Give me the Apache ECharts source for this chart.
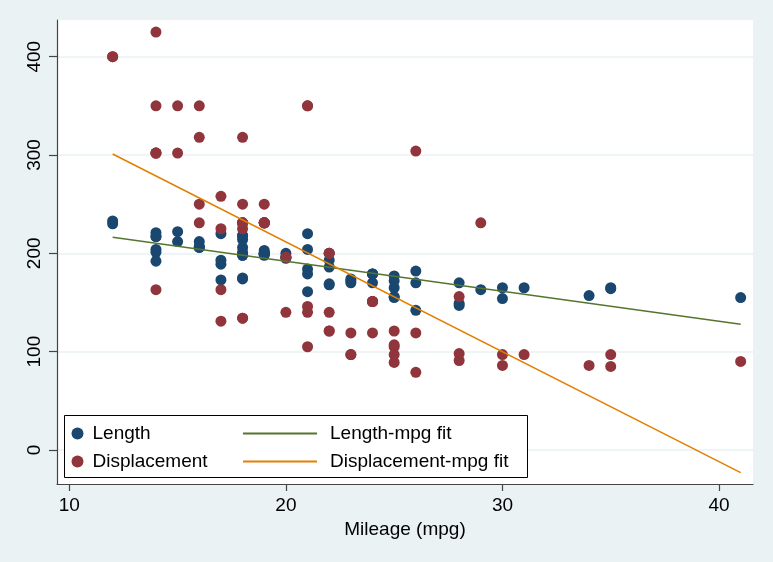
<!DOCTYPE html>
<html>
<head>
<meta charset="utf-8">
<script src="https://cdn.jsdelivr.net/npm/echarts@6/dist/echarts.min.js"></script>
<style>
html,body{margin:0;padding:0;background:#eaf2f3;}
#c{width:773px;height:562px;}
</style>
</head>
<body>
<div id="c"></div>
<script>
const mpg = [22,17,22,20,15,18,26,20,16,19,14,14,21,29,16,22,22,24,19,30,18,16,17,28,21,12,12,14,22,14,15,18,14,20,21,19,19,18,19,24,16,28,34,25,26,18,18,18,19,19,19,24,17,23,25,23,35,24,21,21,25,28,30,14,26,35,18,31,18,23,41,25,25,17];
const lengthVals = [186,173,168,196,222,218,170,200,207,200,221,204,204,163,212,193,200,179,199,165,206,206,220,147,179,233,230,201,169,217,212,198,217,195,220,200,198,218,200,179,206,170,157,165,182,201,214,198,201,199,203,179,189,174,177,170,165,170,184,161,172,149,154,192,142,164,174,165,175,172,155,155,156,193];
const displacementVals = [121,258,121,196,350,231,304,196,231,231,425,350,350,231,250,200,200,151,250,97,318,318,225,98,140,400,400,302,140,302,302,250,302,140,350,231,231,231,231,151,350,156,86,105,119,225,231,231,231,231,231,151,131,97,121,119,85,119,146,105,107,91,86,163,79,97,134,97,134,97,90,89,97,163];
const fitX = [12, 41];
const lengthFit = [216.3, 127.8];
const displacementFit = [301, -23];
const xTicks = [10, 20, 30, 40];
const yTicks = [0, 100, 200, 300, 400];

const FONT = 'Liberation Sans, Arial, Helvetica, sans-serif';
const FS = 19;
const pairs = (xs, ys) => xs.map((x, i) => [x, ys[i]]);

const chart = echarts.init(document.getElementById('c'));
chart.setOption({
  backgroundColor: '#eaf2f3',
  animation: false,
  textStyle: {fontFamily: FONT},
  grid: {left: 57, right: 20, top: 20, bottom: 78, show: true, backgroundColor: '#ffffff', borderWidth: 0, containLabel: false},
  xAxis: {
    type: 'value', min: 9.43, max: 41.57,
    name: 'Mileage (mpg)', nameLocation: 'middle', nameGap: 34,
    nameTextStyle: {fontSize: FS, color: '#000', fontFamily: FONT},
    axisLine: {show: true, onZero: false, lineStyle: {color: '#444', width: 1.2}},
    axisTick: {show: true, length: 7, customValues: xTicks, lineStyle: {color: '#444', width: 1.2}},
    axisLabel: {customValues: xTicks, fontSize: FS, color: '#000', margin: 12, fontFamily: FONT},
    splitLine: {show: false}
  },
  yAxis: {
    type: 'value', min: -34.6, max: 437.3,
    axisLine: {show: true, onZero: false, lineStyle: {color: '#444', width: 1.2}},
    axisTick: {show: true, length: 8, customValues: yTicks, lineStyle: {color: '#444', width: 1.2}},
    axisLabel: {customValues: yTicks, fontSize: FS, color: '#000', rotate: 90, margin: 13, fontFamily: FONT},
    splitLine: {show: true, lineStyle: {color: '#eaf2f3', width: 1.5}}
  },
  graphic: [{
    type: 'rect', z: 10, shape: {x: 64.5, y: 415.5, width: 463, height: 62},
    style: {fill: '#ffffff', stroke: '#000', lineWidth: 1}
  }],
  legend: [{
    z: 11, orient: 'vertical', left: 71.5, top: 424, padding: 0, itemGap: 9, itemWidth: 12, itemHeight: 12,
    data: [{name: 'Length', icon: 'circle'}, {name: 'Displacement', icon: 'circle'}],
    textStyle: {fontSize: FS, color: '#000', fontFamily: FONT, padding: [0, 0, 0, 4]}
  }, {
    z: 11, orient: 'vertical', left: 243, top: 424, padding: 0, itemGap: 9, itemWidth: 74, itemHeight: 2,
    data: [{name: 'Length-mpg fit', icon: 'rect'}, {name: 'Displacement-mpg fit', icon: 'rect'}],
    textStyle: {fontSize: FS, color: '#000', fontFamily: FONT, padding: [0, 0, 0, 8]}
  }],
  series: [
    {name: 'Length', type: 'scatter', symbol: 'circle', symbolSize: 11, data: pairs(mpg, lengthVals), itemStyle: {color: '#1a476f', opacity: 1}},
    {name: 'Displacement', type: 'scatter', symbol: 'circle', symbolSize: 11, data: pairs(mpg, displacementVals), itemStyle: {color: '#90353b', opacity: 1}},
    {name: 'Length-mpg fit', type: 'line', symbol: 'none', data: pairs(fitX, lengthFit), lineStyle: {color: '#55752f', width: 1.5}, itemStyle: {color: '#55752f'}},
    {name: 'Displacement-mpg fit', type: 'line', symbol: 'none', data: pairs(fitX, displacementFit), lineStyle: {color: '#e37e00', width: 1.5}, itemStyle: {color: '#e37e00'}}
  ]
});
</script>
</body>
</html>
